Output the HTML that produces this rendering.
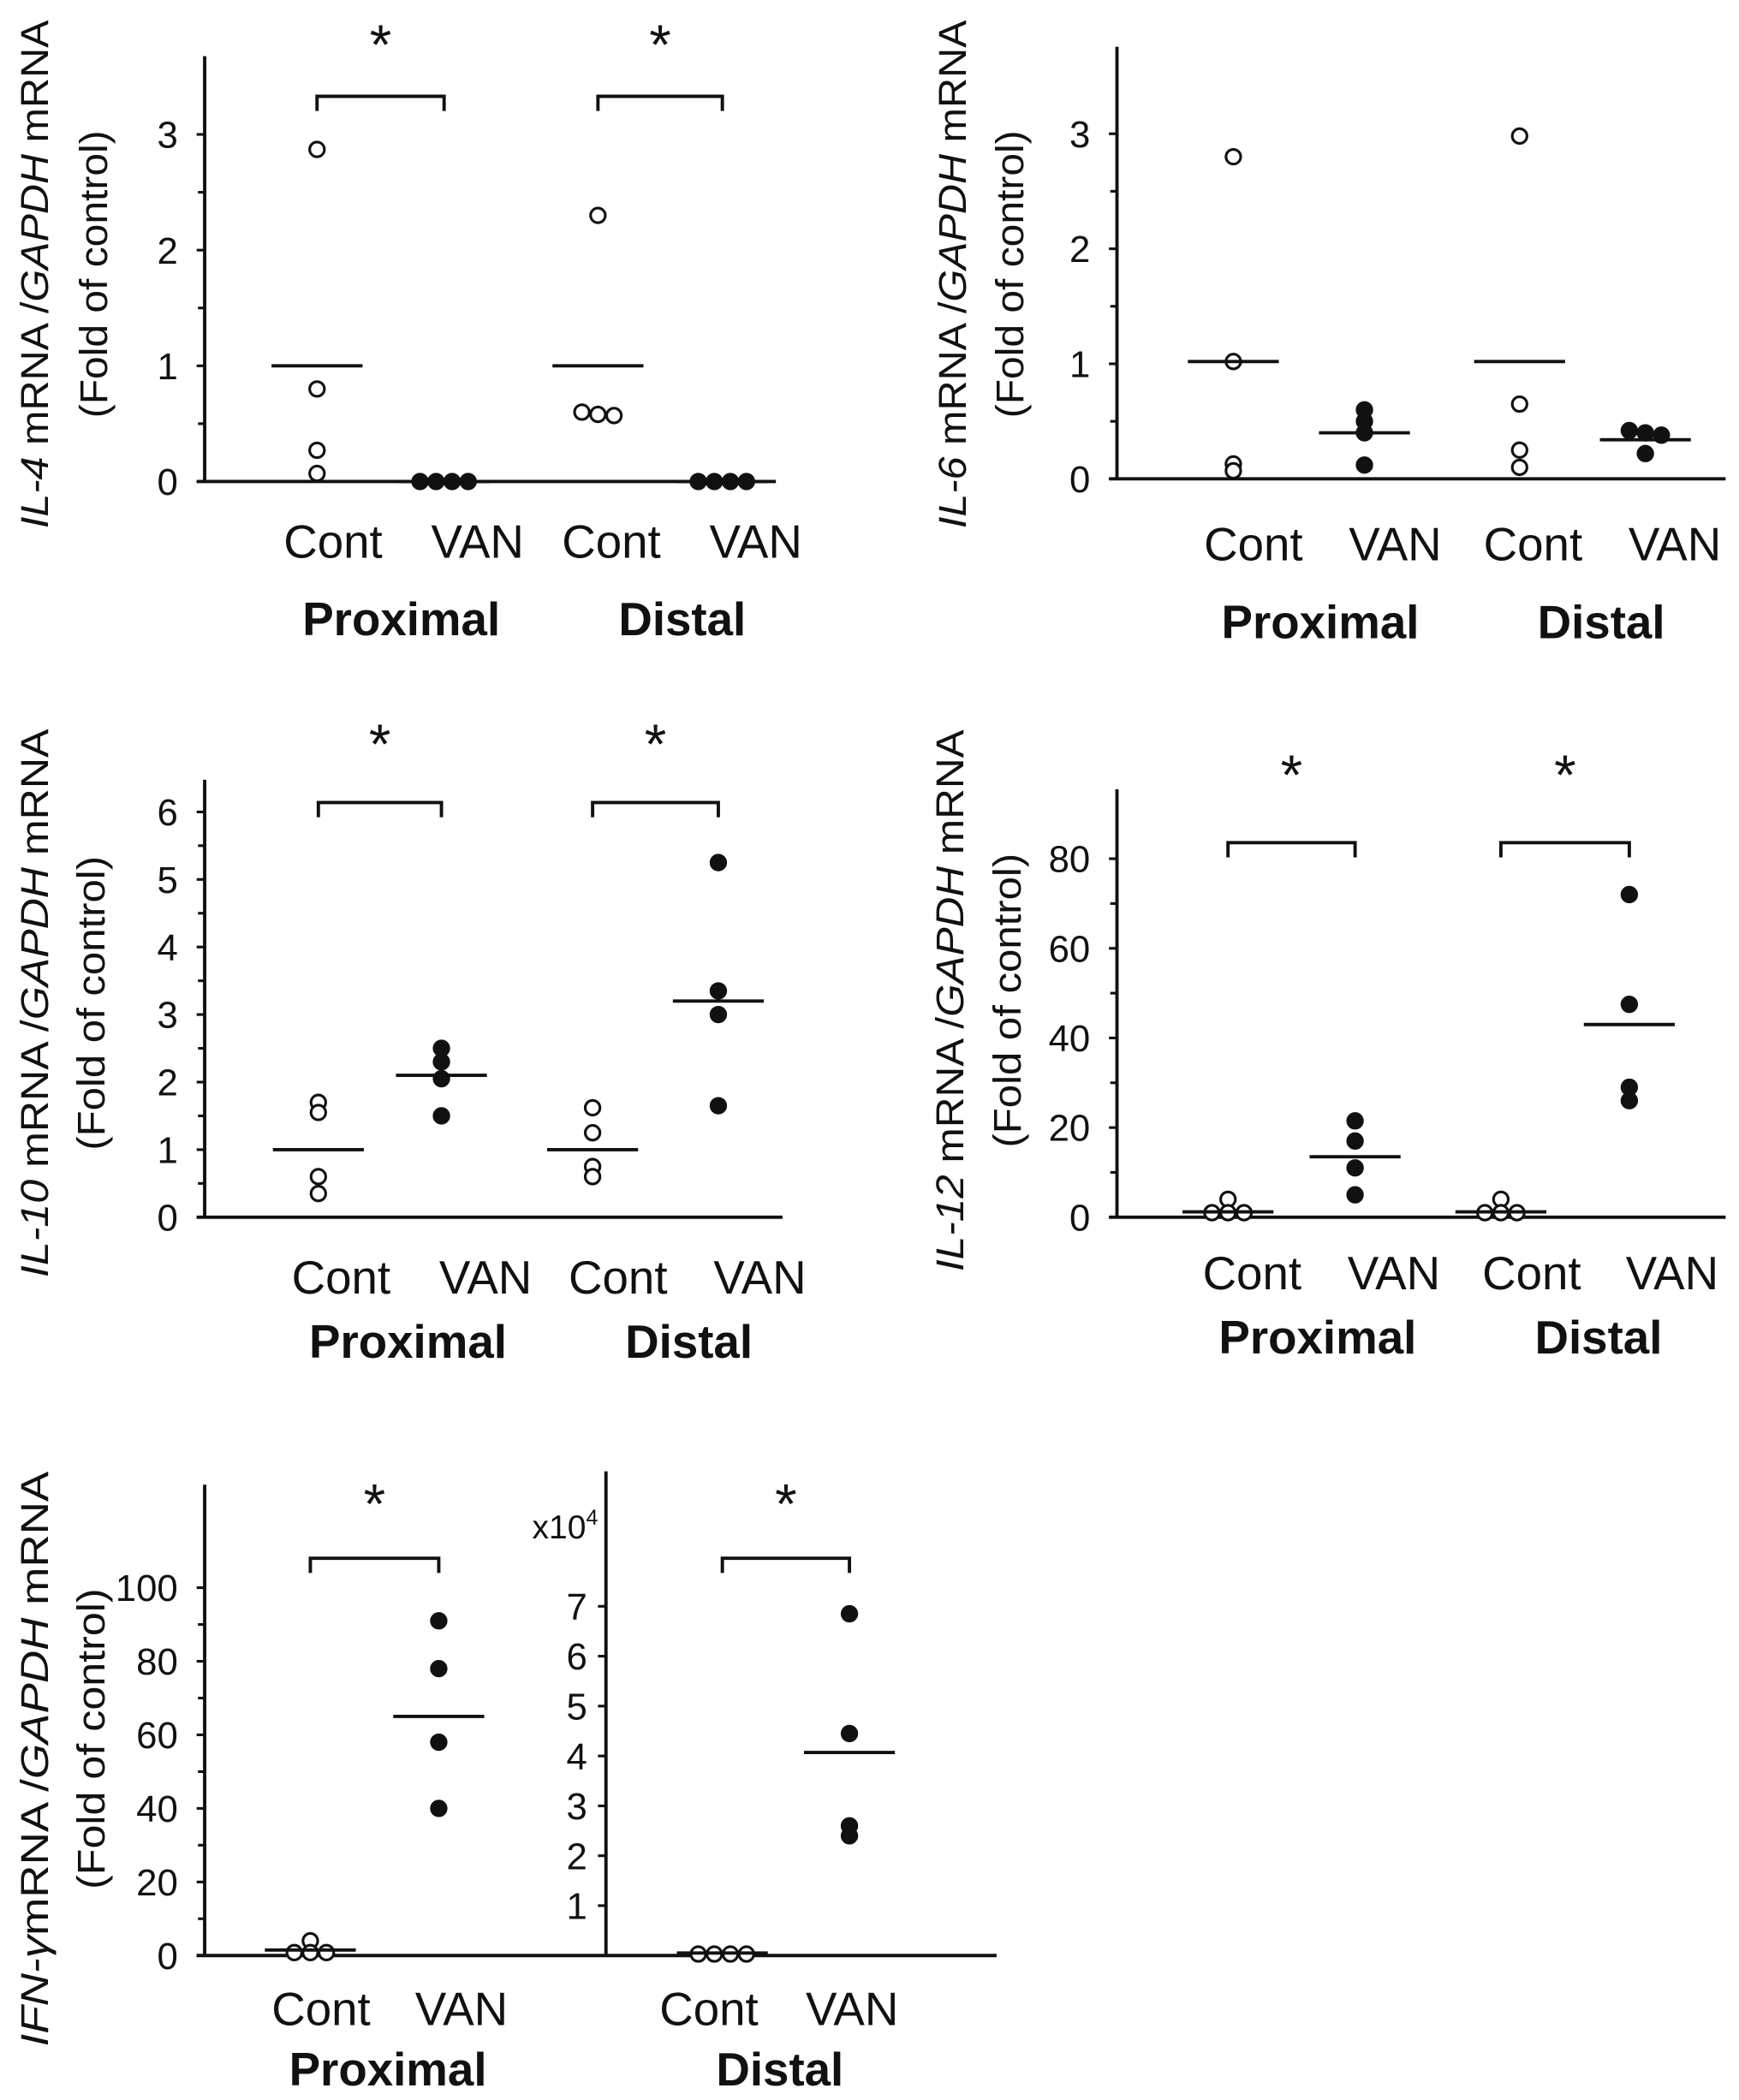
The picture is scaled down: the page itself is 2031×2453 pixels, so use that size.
<!DOCTYPE html>
<html><head><meta charset="utf-8"><style>
html,body{margin:0;padding:0;background:#fff;}
svg{display:block;}
text{font-family:"Liberation Sans",Arial,sans-serif;fill:#111;}
</style></head><body>
<svg id="fig" xmlns="http://www.w3.org/2000/svg" width="2031" height="2453" viewBox="0 0 1300 1570" preserveAspectRatio="none"></svg>
<script>
// ---- data ----
const groups = ["Cont","VAN","Cont","VAN"];
const regions = ["Proximal","Distal"];
const il4Values = [[2.87,0.8,0.27,0.07],[0,0,0,0],[2.3,0.6,0.58,0.57],[0,0,0,0]];
const il4Means = [1.0,0,1.0,0];
const il4Ticks = [0,1,2,3];
const il6Values = [[2.8,1.02,0.13,0.07],[0.6,0.5,0.4,0.12],[2.98,0.65,0.25,0.1],[0.42,0.4,0.38,0.22]];
const il6Means = [1.02,0.4,1.02,0.34];
const il6Ticks = [0,1,2,3];
const il10Values = [[1.7,1.55,0.6,0.35],[2.5,2.3,2.05,1.5],[1.62,1.25,0.75,0.6],[5.25,3.35,3.0,1.65]];
const il10Means = [1.0,2.1,1.0,3.2];
const il10Ticks = [0,1,2,3,4,5,6];
const il12Values = [[4,1,1,1],[21.5,17,11,5],[4,1,1,1],[72,47.5,29,26]];
const il12Means = [1.2,13.5,1.2,43];
const il12Ticks = [0,20,40,60,80];
const ifnProxValues = [[4,0.8,0.8,0.8],[91,78,58,40]];
const ifnProxMeans = [1.5,65];
const ifnProxTicks = [0,20,40,60,80,100];
const ifnDistValues = [[0.03,0.03,0.03,0.03],[6.85,4.45,2.6,2.4]];
const ifnDistMeans = [0.05,4.07];
const ifnDistTicks = [1,2,3,4,5,6,7];

const svg=document.getElementById('fig');
const NS='http://www.w3.org/2000/svg';
function mk(tag,attrs,parent){const e=document.createElementNS(NS,tag);for(const k in attrs)e.setAttribute(k,attrs[k]);(parent||svg).appendChild(e);return e;}
function txt(s,x,y,size,parent,anchor,weight){const t=mk('text',{x:x,y:y,'font-size':size,'text-anchor':anchor||'middle','font-weight':weight||'normal'},parent);t.textContent=s;return t;}

function drawPoints(g,vals,cx,yf,filled){
  const ys=vals.map(yf);const used=new Array(ys.length).fill(false);
  for(let i=0;i<ys.length;i++){if(used[i])continue;const grp=[i];used[i]=true;
    for(let j=i+1;j<ys.length;j++){if(!used[j]&&Math.abs(ys[j]-ys[i])<4){grp.push(j);used[j]=true;}}
    grp.forEach((idx,k)=>{const dx=(k-(grp.length-1)/2)*12;
      const c=mk('circle',{cx:cx+dx,cy:ys[idx],r:5.5,fill:filled?'#111':'#fff',stroke:'#111','stroke-width':2},g);
      
      });
  }
}

function panel(o){
  const g=mk('g',{});
  
  
  const yf=v=>o.zero-(v-o.vmin)*o.ppu;
  mk('line',{x1:o.ax,y1:o.top,x2:o.ax,y2:o.zero,stroke:'#111','stroke-width':2.5},g);
  mk('line',{x1:o.ax-6,y1:o.zero,x2:o.end,y2:o.zero,stroke:'#111','stroke-width':2.5},g);
  o.ticks.forEach((t,i)=>{const y=yf(t);
    mk('line',{x1:o.ax-6,y1:y,x2:o.ax,y2:y,stroke:'#111','stroke-width':2},g);
    const l=txt(String(t),o.ax-20,y+10,28,g,'end');
    if(o.minor && i<o.ticks.length-1){const ym=yf((t+o.ticks[i+1])/2);mk('line',{x1:o.ax-5,y1:ym,x2:o.ax,y2:ym,stroke:'#111','stroke-width':2},g);}
  });
  o.cats.forEach((cx,i)=>{
    drawPoints(g,o.values[i],cx,yf,i%2===1);
    const m=mk('line',{x1:cx-34,y1:yf(o.means[i]),x2:cx+34,y2:yf(o.means[i]),stroke:'#111','stroke-width':2.5},g);
    
  });
  return {g,yf};
}
function bracket(x1,x2,y,sy){
  const p=mk('path',{d:`M${x1} ${y+11}V${y}H${x2}V${y+11}`,fill:'none',stroke:'#111','stroke-width':2.5});
  
  const s=txt('*',(x1+x2)/2,sy+26,42);
}
function ylabel(italic,rest,x,cy,len,x2,len2){
  const t=mk('text',{transform:`translate(${x},${cy}) rotate(-90)`,'text-anchor':'middle','font-size':29,textLength:len,lengthAdjust:'spacingAndGlyphs'});
  
  const a=mk('tspan',{'font-style':'italic'},t);a.textContent=italic;
  const b=mk('tspan',{},t);b.textContent=rest[0];
  const c=mk('tspan',{'font-style':'italic'},t);c.textContent='GAPDH';
  const d=mk('tspan',{},t);d.textContent=' mRNA';
  const t2=mk('text',{transform:`translate(${x2},${cy}) rotate(-90)`,'text-anchor':'middle','font-size':29,textLength:len2,lengthAdjust:'spacingAndGlyphs'});
  
  t2.textContent='(Fold of control)';
}
function xlabels(xs,ly,rx,ry){
  xs.forEach((x,i)=>{const t=txt(groups[i],x,ly,35);});
  rx.forEach((x,i)=>{const t=txt(regions[i],x,ry,35,null,'middle','bold');});
}

// Panel A IL-4
panel({name:'il4-panel',ax:153,top:42,zero:360,end:580,vmin:0,ppu:86.5,ticks:il4Ticks,minor:true,cats:[237,332,447,540],values:il4Values,means:il4Means});
bracket(237,332,72,22);bracket(447,540,72,22);
ylabel('IL-4',[' mRNA /'],36,205,380,80,215);
xlabels([249,357,457,565],417,[300,510],475);

// Panel B IL-6
panel({name:'il6-panel',ax:835,top:35,zero:358,end:1290,vmin:0,ppu:86,ticks:il6Ticks,minor:true,cats:[922,1020,1136,1230],values:il6Values,means:il6Means});
ylabel('IL-6',[' mRNA /'],722,205,380,765,215);
xlabels([937,1043,1146,1252],419,[987,1197],477);

// Panel C IL-10
panel({name:'il10-panel',ax:153,top:583,zero:910,end:585,vmin:0,ppu:50.5,ticks:il10Ticks,minor:true,cats:[238,330,443,537],values:il10Values,means:il10Means});
bracket(238,330,600,545);bracket(443,537,600,545);
ylabel('IL-10',[' mRNA /'],36,750,410,78,220);
xlabels([255,363,462,568],967,[305,515],1015);

// Panel D IL-12
panel({name:'il12-panel',ax:835,top:590,zero:910,end:1290,vmin:0,ppu:3.35,ticks:il12Ticks,minor:true,cats:[918,1013,1122,1218],values:il12Values,means:il12Means});
bracket(918,1013,630,568);bracket(1122,1218,630,568);
ylabel('IL-12',[' mRNA /'],720,748,405,763,220);
xlabels([936,1042,1145,1250],964,[985,1195],1012);

// Panel E IFN-gamma proximal
panel({name:'ifn-proximal-panel',ax:153,top:1110,zero:1462,end:745,vmin:0,ppu:2.75,ticks:ifnProxTicks,minor:true,cats:[232,328],values:ifnProxValues,means:ifnProxMeans});
bracket(232,328,1165,1113);
// distal sub-axis
(function(){
  const g=mk('g',{});
  
  
  const ax=453,zero=1462,ppu=37.3;const yf=v=>zero-v*ppu;
  mk('line',{x1:ax,y1:1100,x2:ax,y2:zero,stroke:'#111','stroke-width':2.5},g);
  ifnDistTicks.forEach(t=>{const y=yf(t);mk('line',{x1:ax-6,y1:y,x2:ax,y2:y,stroke:'#111','stroke-width':2},g);
    const l=txt(String(t),ax-14,y+10,28,g,'end');});
  const ex=mk('text',{x:ax-6,y:1150,'font-size':25,'text-anchor':'end'},g);
  
  ex.textContent='x10';const sup=mk('tspan',{'font-size':16,dy:-10},ex);sup.textContent='4';
  [540,635].forEach((cx,i)=>{drawPoints(g,ifnDistValues[i],cx,yf,i===1);
    const m=mk('line',{x1:cx-34,y1:yf(ifnDistMeans[i]),x2:cx+34,y2:yf(ifnDistMeans[i]),stroke:'#111','stroke-width':2.5},g);
    });
})();
bracket(540,635,1165,1113);
(function(){
  const t=mk('text',{transform:'translate(36,1315) rotate(-90)','text-anchor':'middle','font-size':29,textLength:430,lengthAdjust:'spacingAndGlyphs'});
  
  const a=mk('tspan',{'font-style':'italic'},t);a.textContent='IFN-γ';
  const b=mk('tspan',{},t);b.textContent='mRNA /';
  const c=mk('tspan',{'font-style':'italic'},t);c.textContent='GAPDH';
  const d=mk('tspan',{},t);d.textContent=' mRNA';
  const t2=mk('text',{transform:'translate(78,1300) rotate(-90)','text-anchor':'middle','font-size':29,textLength:225,lengthAdjust:'spacingAndGlyphs'});
  
  t2.textContent='(Fold of control)';
})();
xlabels([240,345,530,637],1514,[290,583],1559);
</script>
</body></html>
